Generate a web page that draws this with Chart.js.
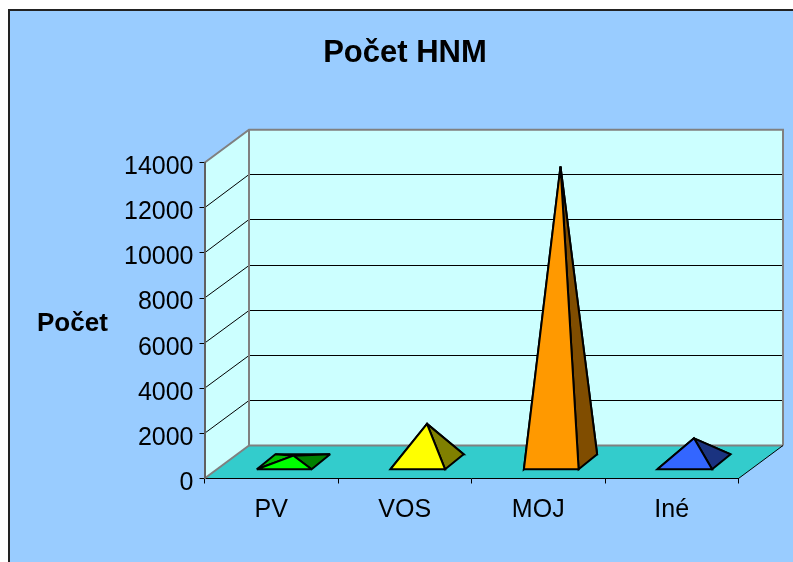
<!DOCTYPE html>
<meta charset="UTF-8" />
<style>
  body { margin: 0; background: #fff; }
  canvas { display: block; }
</style>
<canvas id="myChart" width="793" height="562"></canvas>
<script src="https://cdn.jsdelivr.net/npm/chart.js@4"></script>
<script>
// values
const categories = ["PV", "VOS", "MOJ", "Iné"];
const counts = [280, 1690, 13100, 1050];

const frontColors = ["#00FF00", "#FFFF00", "#FF9900", "#3366FF"];
const leftColors = ["#00C000", "#C0C000", "#C07300", "#264DC0"];
const rightColors = ["#008000", "#808000", "#804D00", "#1A3380"];

const font = "'Liberation Sans', Arial, sans-serif";

// 3d look, in pixels
const depthX = 44.5, depthY = 33;
const baseShiftX = 13, baseShiftY = 9.2;
const baseDepthX = 18.5, baseDepthY = 15;

function poly(ctx, pts, fill, stroke, width) {
  ctx.beginPath();
  ctx.moveTo(pts[0][0], pts[0][1]);
  for (var i = 1; i < pts.length; i++) ctx.lineTo(pts[i][0], pts[i][1]);
  ctx.closePath();
  if (fill) { ctx.fillStyle = fill; ctx.fill(); }
  if (stroke) { ctx.strokeStyle = stroke; ctx.lineWidth = width; ctx.stroke(); }
}

function line(ctx, pts, color, width) {
  ctx.beginPath();
  ctx.moveTo(pts[0][0], pts[0][1]);
  for (var i = 1; i < pts.length; i++) ctx.lineTo(pts[i][0], pts[i][1]);
  ctx.strokeStyle = color;
  ctx.lineWidth = width;
  ctx.stroke();
}

const scene = {
  id: "scene",
  beforeDraw(chart) {
    const ctx = chart.ctx, a = chart.chartArea, y = chart.scales.y;
    const l = a.left, r = a.right, t = a.top, b = a.bottom;
    ctx.save();
    ctx.fillStyle = "#fff";
    ctx.fillRect(0, 0, chart.width, chart.height);
    ctx.fillStyle = "#99CCFF";
    ctx.fillRect(9, 10, chart.width, chart.height);
    line(ctx, [[9, chart.height], [9, 10], [chart.width, 10]], "#222", 2);

    // walls and floor
    poly(ctx, [[l, t], [l + depthX, t - depthY], [l + depthX, b - depthY], [l, b]], "#CCFFFF");
    poly(ctx, [[l + depthX, t - depthY], [r + depthX, t - depthY], [r + depthX, b - depthY], [l + depthX, b - depthY]], "#CCFFFF");
    poly(ctx, [[l, b], [l + depthX, b - depthY], [r + depthX, b - depthY], [r, b]], "#33CCCC");

    // grid on both walls
    y.ticks.forEach(function (tick) {
      const py = y.getPixelForValue(tick.value);
      if (tick.value === 0 || tick.value === y.max) return;
      const back = Math.floor(py - depthY) + 0.5;
      line(ctx, [[l, py], [l + depthX, back], [r + depthX, back]], "#000", 1);
    });

    // outer edges
    line(ctx, [[l, t], [l + depthX, t - depthY], [r + depthX, t - depthY], [r + depthX, b - depthY]], "#808080", 2);
    line(ctx, [[l + depthX, t - depthY], [l + depthX, b - depthY], [r + depthX, b - depthY]], "#808080", 2);
    line(ctx, [[l, b], [l + depthX, b - depthY]], "#808080", 2);
    line(ctx, [[r, b], [r + depthX, b - depthY]], "#000", 1);

    // horizontal axis title, chart.js only rotates it
    ctx.fillStyle = "#000";
    ctx.font = "bold 26px " + font;
    ctx.textAlign = "left";
    ctx.textBaseline = "middle";
    ctx.fillText("Počet", 37, 324);
    ctx.restore();
  },
  afterDatasetsDraw(chart) {
    const ctx = chart.ctx, y = chart.scales.y;
    const floor = y.getPixelForValue(0);
    ctx.save();
    ctx.lineJoin = "miter";
    ctx.miterLimit = 3;
    chart.getDatasetMeta(0).data.forEach(function (bar, i) {
      const x0 = bar.x - bar.width / 2 + baseShiftX;
      const x1 = bar.x + bar.width / 2 + baseShiftX;
      const yf = floor - baseShiftY;
      const yb = yf - baseDepthY;
      const fl = [x0, yf], fr = [x1, yf];
      const bl = [x0 + baseDepthX, yb], br = [x1 + baseDepthX, yb];
      const apex = [bar.x + baseShiftX + baseDepthX / 2, y.getPixelForValue(counts[i]) - depthY / 2];
      poly(ctx, [bl, br, apex], rightColors[i], "#000", 2);
      poly(ctx, [fl, bl, apex], leftColors[i], "#000", 2);
      poly(ctx, [fr, br, apex], rightColors[i], "#000", 2);
      poly(ctx, [fl, fr, apex], frontColors[i], "#000", 2);
    });
    ctx.restore();
  }
};

const config = {
  type: "bar",
  data: {
    labels: categories,
    datasets: [{
      label: "Počet",
      data: counts,
      backgroundColor: "transparent",
      barPercentage: 0.41,
      categoryPercentage: 1
    }]
  },
  plugins: [scene],
  options: {
    responsive: false,
    animation: false,
    events: [],
    layout: { padding: { left: 71.5, right: 54.5, top: 0, bottom: 0 } },
    plugins: {
      legend: { display: false },
      tooltip: { enabled: false },
      title: {
        display: true,
        text: "Počet HNM",
        color: "#000",
        font: { family: font, size: 31, weight: "bold" },
        padding: { top: 35, bottom: 90.5 }
      }
    },
    scales: {
      x: {
        afterFit: function (s) { s.height = 83.5; },
        grid: { drawOnChartArea: false, color: "#000", tickLength: 5, offset: true },
        border: { color: "#000", width: 1 },
        ticks: { color: "#000", font: { family: font, size: 25 }, padding: 12, maxRotation: 0 }
      },
      y: {
        min: 0,
        max: 14000,
        afterFit: function (s) { s.width = 133; },
        grid: { drawOnChartArea: false, color: "#000", tickLength: 5 },
        border: { color: "#606060", width: 2 },
        ticks: {
          stepSize: 2000,
          color: "#000",
          font: { family: font, size: 25 },
          padding: 6,
          labelOffset: 4.5,
          callback: function (value) { return String(value); }
        }
      }
    }
  }
};

var myChart = new Chart(document.getElementById("myChart"), config);
</script>
